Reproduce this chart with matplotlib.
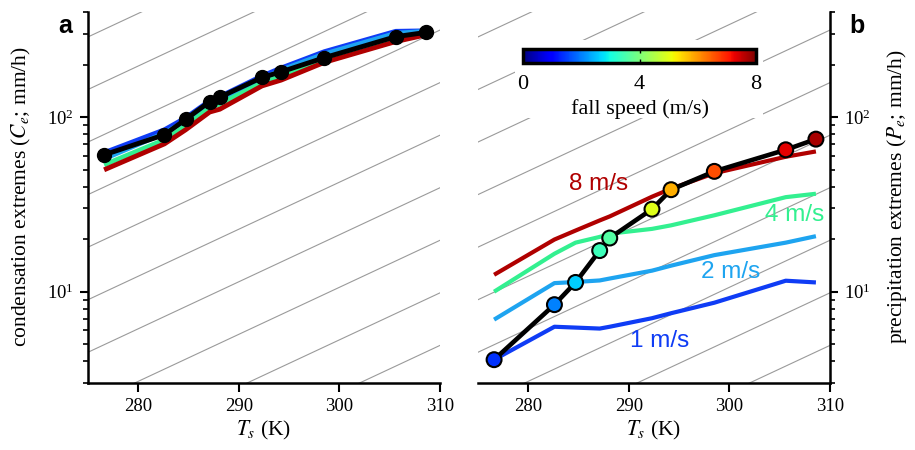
import numpy as np
import matplotlib
matplotlib.use('Agg')
import matplotlib.pyplot as plt
from matplotlib.patches import Rectangle
from matplotlib.colors import Normalize
from matplotlib.cm import ScalarMappable
from matplotlib.ticker import NullFormatter

plt.rcParams['font.family'] = 'Liberation Serif'
plt.rcParams['mathtext.fontset'] = 'stix'

# surface temperature of each simulation (K)
Ts = [276.6, 282.6, 284.7, 287.1, 288.1, 292.3, 294.2, 298.5, 305.6, 308.6]

# panel a: condensation extremes (mm/h)
cond_total = [60.8, 79.3, 97, 122.7, 130, 168.7, 181.7, 219, 289, 305.6]
cond_1 = [62.5, 84.6, 99, 124, 131, 172, 191, 237, 310, 312]
cond_2 = [57.7, 81, 95, 119, 125, 165, 186, 230, 302, 310]
cond_4 = [53.3, 74.1, 89, 113, 119, 157, 171, 211, 273, 300]
cond_8 = [49.9, 70.3, 84.6, 107, 111, 151, 163, 206, 271, 296]

# panel b: precipitation extremes (mm/h)
precip_total = [4.08, 8.43, 11.3, 17.2, 20.3, 29.7, 38.4, 48.9, 65, 74.8]
precip_1 = [4.08, 6.3, 6.23, 6.15, 6.3, 7.05, 7.53, 8.65, 11.56, 11.3]
precip_2 = [6.92, 11.2, 11.37, 11.6, 11.9, 13.2, 14.1, 16.2, 19.1, 20.8]
precip_4 = [10.0, 16.5, 19.1, 20.6, 21.5, 22.9, 24.0, 27.4, 34.8, 36.4]
precip_8 = [12.5, 19.9, 22.4, 25.6, 27.0, 35, 38.9, 47.7, 59.3, 63.6]

# effective fall speed at each temperature (m/s), marker colours in b
fall_speed = [1.4, 2.0, 2.6, 3.4, 3.6, 4.95, 5.8, 6.6, 7.3, 7.7]

speeds = ['1 m/s', '2 m/s', '4 m/s', '8 m/s']
colors = ['#0f3cf5', '#1ea4f0', '#33f090', '#b00000']

# reference (CC-like) lines
cc_base = 2.25
cc_rate = 0.062

fig = plt.figure(figsize=(9.15, 4.5), dpi=100)
ax1 = fig.add_axes([0.0962, 0.1489, 0.3847, 0.8244])
ax2 = fig.add_axes([0.5224, 0.1489, 0.3847, 0.8244])

T = np.linspace(270, 315, 20)
for ax in (ax1, ax2):
    ax.set_yscale('log')
    for k in range(-3, 9):
        ax.plot(T, cc_base * 2**k * np.exp(cc_rate * (T - 275)),
                color='#9a9a9a', lw=0.8, zorder=1)
    ax.set_xlim(275, 310)
    ax.set_ylim(3, 400)
    ax.set_xticks([280, 290, 300, 310])
    ax.yaxis.set_minor_formatter(NullFormatter())
    ax.tick_params(which='major', direction='out', length=6, width=1.5,
                   labelsize=13.5, pad=4)
    ax.tick_params(which='minor', direction='out', length=3.5, width=1.2)
    ax.tick_params(axis='x', length=6.5)
    ax.spines['top'].set_visible(False)
    for s in ax.spines.values():
        s.set_linewidth(1.8)
    ax.set_xlabel(r'$T_s$ (K)', fontsize=15.5, labelpad=3)

ax1.spines['right'].set_visible(False)
ax2.spines['left'].set_visible(False)
ax2.yaxis.tick_right()
ax2.yaxis.set_ticks_position('right')

# panel a
for vals, c in zip([cond_1, cond_2, cond_4, cond_8], colors):
    ax1.plot(Ts, vals, color=c, lw=3.5, solid_capstyle='butt', zorder=3)
ax1.plot(Ts, cond_total, color='black', lw=3.5, marker='o', ms=10, zorder=4)

# panel b
for vals, c in zip([precip_1, precip_2, precip_4, precip_8], colors):
    ax2.plot(Ts, vals, color=c, lw=3, solid_capstyle='butt', zorder=3)
ax2.plot(Ts, precip_total, color='black', lw=3.3, zorder=4)
ax2.scatter(Ts, precip_total, c=fall_speed, cmap='jet', vmin=0, vmax=8,
            s=115, edgecolors='black', linewidths=1.5, zorder=5)

label_pos = [(293.1, 5.25), (300.1, 13.0), (306.5, 27.6), (287.0, 41.5)]
for (x, y), txt, c in zip(label_pos, speeds, colors):
    ax2.text(x, y, txt, color=c, fontsize=17.5, family='Liberation Sans',
             ha='center', va='center', zorder=6)

# white box behind the colorbar
ax2.add_patch(Rectangle((0.105, 0.714), 0.705, 0.211, transform=ax2.transAxes,
                        facecolor='white', edgecolor='none', zorder=1.5))

cax = fig.add_axes([0.5716, 0.859, 0.2547, 0.0318])
sm = ScalarMappable(norm=Normalize(0, 8), cmap='jet')
cb = fig.colorbar(sm, cax=cax, orientation='horizontal', ticks=[0, 4, 8])
cb.outline.set_linewidth(2.5)
cax.tick_params(direction='in', length=3, width=1, labelsize=16, pad=8,
                top=True)
cb.set_label('fall speed (m/s)', fontsize=16, labelpad=4)

fig.text(21 / 915, 1 - 197 / 450, r'condensation extremes ($C_e$; mm/h)',
         rotation=90, ha='center', va='center', fontsize=15.5)
fig.text(897 / 915, 1 - 197 / 450, r'precipitation extremes ($P_e$; mm/h)',
         rotation=90, ha='center', va='center', fontsize=15.5)

fig.text(65 / 915, 1 - 26 / 450, 'a', family='Liberation Sans',
         fontweight='bold', fontsize=18, ha='center', va='center')
fig.text(857 / 915, 1 - 26 / 450, 'b', family='Liberation Sans',
         fontweight='bold', fontsize=18, ha='center', va='center')

fig.savefig('out.png', dpi=100)
